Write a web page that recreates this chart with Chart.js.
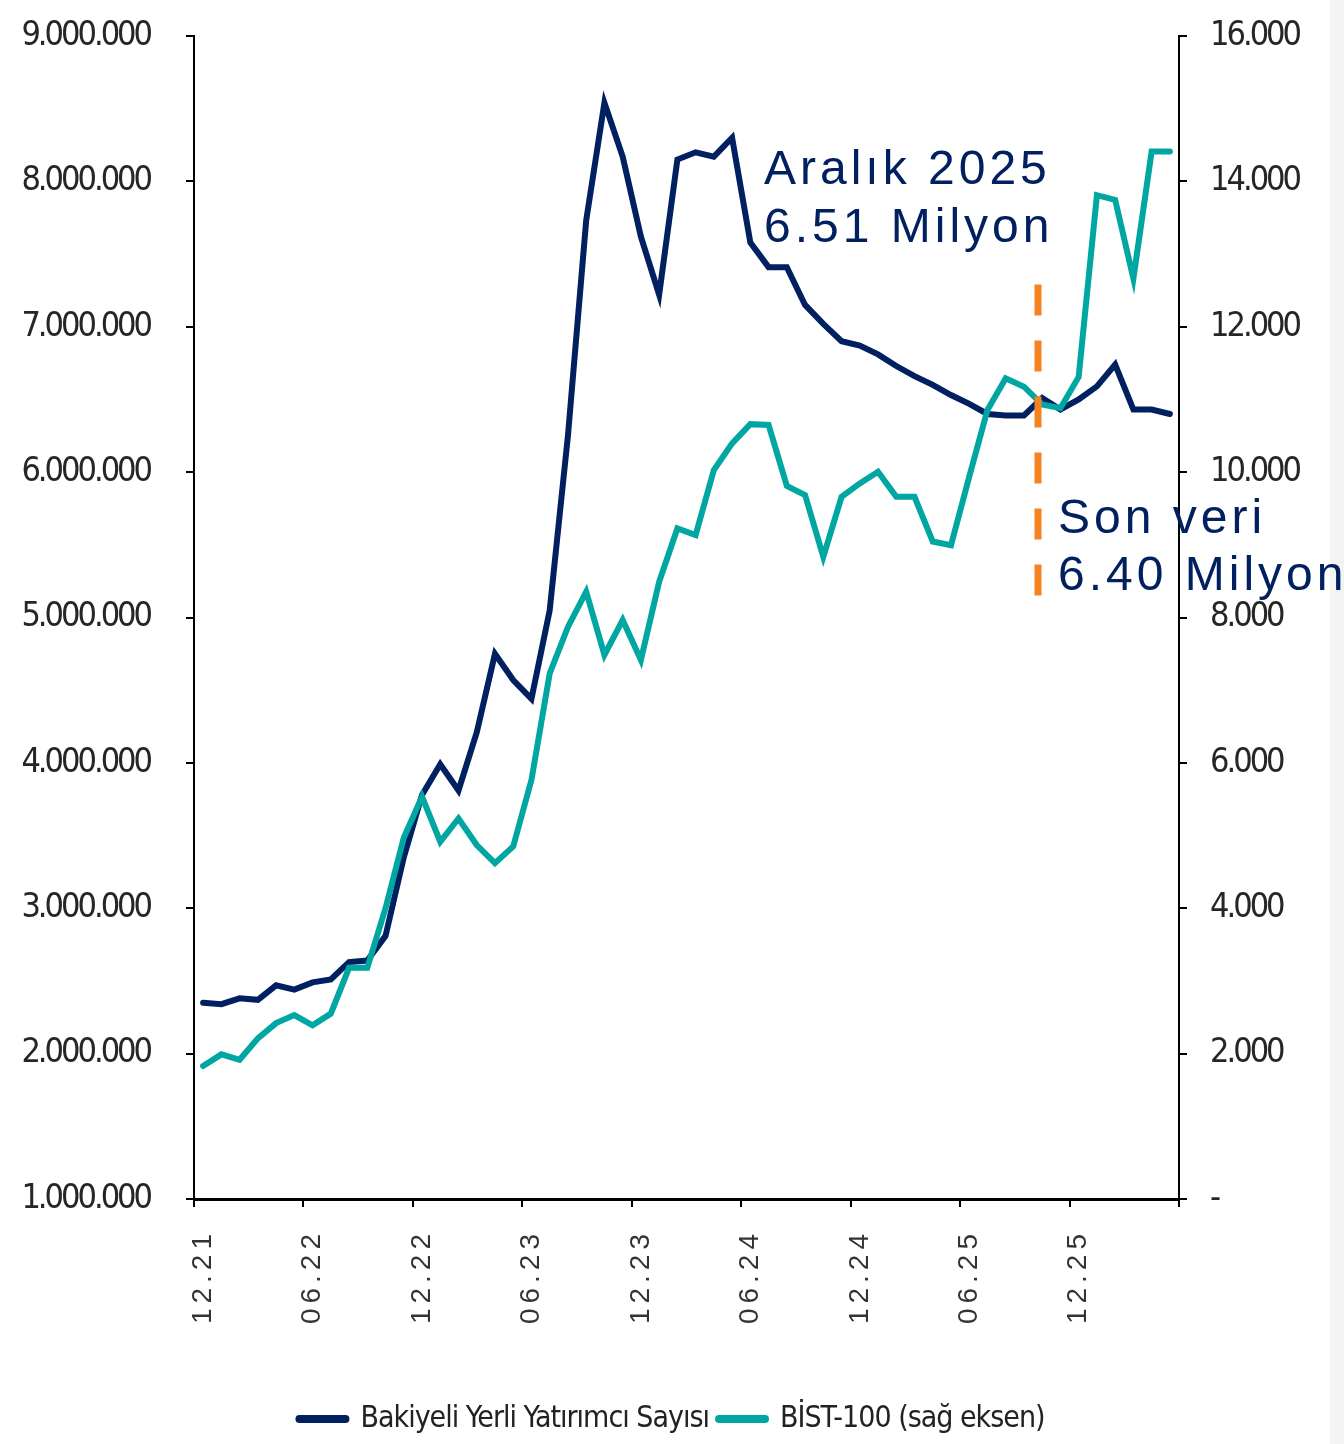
<!DOCTYPE html>
<html>
<head>
<meta charset="utf-8">
<script src="https://cdn.jsdelivr.net/npm/chart.js@4.4.1/dist/chart.umd.min.js"></script>
<style>
  html, body { margin: 0; padding: 0; }
  body { width: 1344px; height: 1444px; background: linear-gradient(to right, #fff 1330px, #f3f3f3 1330px); }
</style>
</head>
<body>
<canvas id="chart" width="1344" height="1444"></canvas>
<script>
// Aylar (ay.yıl)
const aylar = [
  "12.21", "01.22", "02.22", "03.22", "04.22", "05.22", "06.22", "07.22", "08.22", "09.22", "10.22", "11.22",
  "12.22", "01.23", "02.23", "03.23", "04.23", "05.23", "06.23", "07.23", "08.23", "09.23", "10.23", "11.23",
  "12.23", "01.24", "02.24", "03.24", "04.24", "05.24", "06.24", "07.24", "08.24", "09.24", "10.24", "11.24",
  "12.24", "01.25", "02.25", "03.25", "04.25", "05.25", "06.25", "07.25", "08.25", "09.25", "10.25", "11.25",
  "12.25", "01.26", "02.26", "03.26", "04.26", "05.26"
];

// Bakiyeli yerli yatırımcı sayısı (sol eksen)
const yatirimciSayisi = [
  2350000, 2340000, 2380000, 2370000, 2470000, 2440000, 2490000, 2510000, 2630000, 2640000, 2810000, 3350000,
  3780000, 3990000, 3810000, 4210000, 4750000, 4570000, 4440000, 5050000, 6250000, 7730000, 8540000, 8170000,
  7620000, 7220000, 8150000, 8200000, 8170000, 8300000, 7580000, 7410000, 7410000, 7150000, 7020000, 6900000,
  6870000, 6810000, 6730000, 6660000, 6600000, 6530000, 6470000, 6400000, 6390000, 6390000, 6510000, 6430000,
  6500000, 6590000, 6740000, 6430000, 6430000, 6400000
];

// BİST-100 (sağ eksen)
const bist100 = [
  1830, 1990, 1915, 2210, 2420, 2530, 2390, 2550, 3180, 3180, 4000, 4970,
  5535, 4915, 5235, 4870, 4620, 4850, 5765, 7230, 7870, 8355, 7485, 7965,
  7415, 8490, 9225, 9135, 10030, 10395, 10660, 10650, 9810, 9685, 8835, 9660,
  9845, 10005, 9660, 9660, 9045, 8995, 9935, 10855, 11290, 11175, 10930, 10880,
  11310, 13810, 13745, 12665, 14410, 14410
];

const aralikNotu = ["Aralık 2025", "6.51 Milyon"];
const sonVeriNotu = ["Son veri", "6.40 Milyon"];

const DAR = '"DejaVu Sans Condensed", "Liberation Sans Narrow", sans-serif';
const NORMAL = '"Liberation Sans", Arial, sans-serif';
const LACIVERT = "#002060";
const TURKUAZ = "#00A6A1";

function noktali(v) {
  return String(Math.round(v)).replace(/\B(?=(\d{3})+(?!\d))/g, ".");
}

// eksen etiketleri dar görünsün diye harf aralığı eksi
function eksenRengi(c) {
  c.chart.ctx.letterSpacing = "-3px";
  return "#262626";
}

function dikeyEksenSigdir(s, genislik) {
  s.width = genislik;
  s.paddingTop = 0;
  s.paddingBottom = 0;
}

const notlar = {
  id: "notlar",
  beforeLayout(chart) {
    // lejant metni ölçülürken de aynı harf aralığı kullanılsın
    chart.ctx.letterSpacing = "-1px";
  },
  beforeDraw(chart) {
    chart.ctx.letterSpacing = "-1px"; // lejant
  },
  afterDatasetsDraw(chart) {
    chart.ctx.letterSpacing = "5px"; // x ekseni etiketleri
  },
  afterDraw(chart) {
    const ctx = chart.ctx;
    const x = chart.scales.x;
    const y = chart.scales.y;
    const kesikX = x.getPixelForValue(45.77);

    ctx.save();
    ctx.letterSpacing = "0px";
    ctx.strokeStyle = "#F5821F";
    ctx.lineWidth = 7;
    ctx.setLineDash([31, 25]);
    ctx.beginPath();
    ctx.moveTo(kesikX, y.getPixelForValue(7290000));
    ctx.lineTo(kesikX, y.getPixelForValue(5150000));
    ctx.stroke();
    ctx.setLineDash([]);

    ctx.letterSpacing = "4px";
    ctx.fillStyle = LACIVERT;
    ctx.font = "48px " + NORMAL;
    ctx.textAlign = "left";
    ctx.textBaseline = "alphabetic";
    ctx.fillText(aralikNotu[0], kesikX - 274, 184);
    ctx.fillText(aralikNotu[1], kesikX - 274, 242);
    ctx.fillText(sonVeriNotu[0], kesikX + 20, 533);
    ctx.fillText(sonVeriNotu[1], kesikX + 20, 590);
    ctx.restore();
    ctx.letterSpacing = "-1px";
  }
};

new Chart(document.getElementById("chart"), {
  type: "line",
  data: {
    labels: aylar,
    datasets: [{
      label: "Bakiyeli Yerli Yatırımcı Sayısı",
      data: yatirimciSayisi,
      yAxisID: "y",
      borderColor: LACIVERT,
      backgroundColor: LACIVERT,
      borderWidth: 6,
      pointRadius: 0,
      borderCapStyle: "round",
      order: 1
    }, {
      label: "BİST-100 (sağ eksen)",
      data: bist100,
      yAxisID: "y1",
      borderColor: TURKUAZ,
      backgroundColor: TURKUAZ,
      borderWidth: 6,
      pointRadius: 0,
      borderCapStyle: "round",
      order: 0
    }]
  },
  options: {
    responsive: false,
    devicePixelRatio: 1,
    animation: false,
    layout: { padding: { top: 36, left: 0, right: 0, bottom: 0 } },
    plugins: {
      tooltip: { enabled: false },
      legend: {
        position: "bottom",
        labels: {
          usePointStyle: true,
          pointStyle: "line",
          pointStyleWidth: 46,
          padding: 10,
          color: "#222",
          font: { family: DAR, size: 30 },
          sort: (a, b) => a.datasetIndex - b.datasetIndex,
          generateLabels(chart) {
            const items = Chart.defaults.plugins.legend.labels.generateLabels(chart);
            items.forEach(it => { it.lineWidth = 8; it.lineCap = "round"; });
            return items;
          }
        }
      }
    },
    scales: {
      x: {
        type: "category",
        offset: true,
        grid: {
          offset: true,
          drawOnChartArea: false,
          tickLength: 8,
          lineWidth: 2,
          color: c => (c.type !== "tick" || c.index % 6 === 0) ? "#000" : "rgba(0,0,0,0)"
        },
        border: { color: "#000", width: 3 },
        ticks: {
          autoSkip: false,
          maxRotation: 90,
          minRotation: 90,
          padding: 22,
          z: 1,
          color: "#333",
          font: { family: NORMAL, size: 28 },
          callback: function (v, i) { return i % 6 === 0 ? this.getLabelForValue(v) : ""; }
        },
        afterFit(s) { s.height = 195; }
      },
      y: {
        position: "left",
        min: 1000000,
        max: 9000000,
        ticks: {
          stepSize: 1000000,
          padding: 36,
          color: eksenRengi,
          font: { family: DAR, size: 34 },
          callback: v => noktali(v)
        },
        grid: { drawOnChartArea: false, tickLength: 8, color: "#000", lineWidth: 2 },
        border: { color: "#000", width: 2 },
        afterFit(s) { dikeyEksenSigdir(s, 194); }
      },
      y1: {
        position: "right",
        min: 0,
        max: 16000,
        ticks: {
          stepSize: 2000,
          padding: 23,
          color: eksenRengi,
          font: { family: DAR, size: 34 },
          callback: v => v === 0 ? "-" : noktali(v)
        },
        grid: { drawOnChartArea: false, tickLength: 8, color: "#000", lineWidth: 2 },
        border: { color: "#000", width: 2 },
        afterFit(s) { dikeyEksenSigdir(s, 165); }
      }
    }
  },
  plugins: [notlar]
});
</script>
</body>
</html>
